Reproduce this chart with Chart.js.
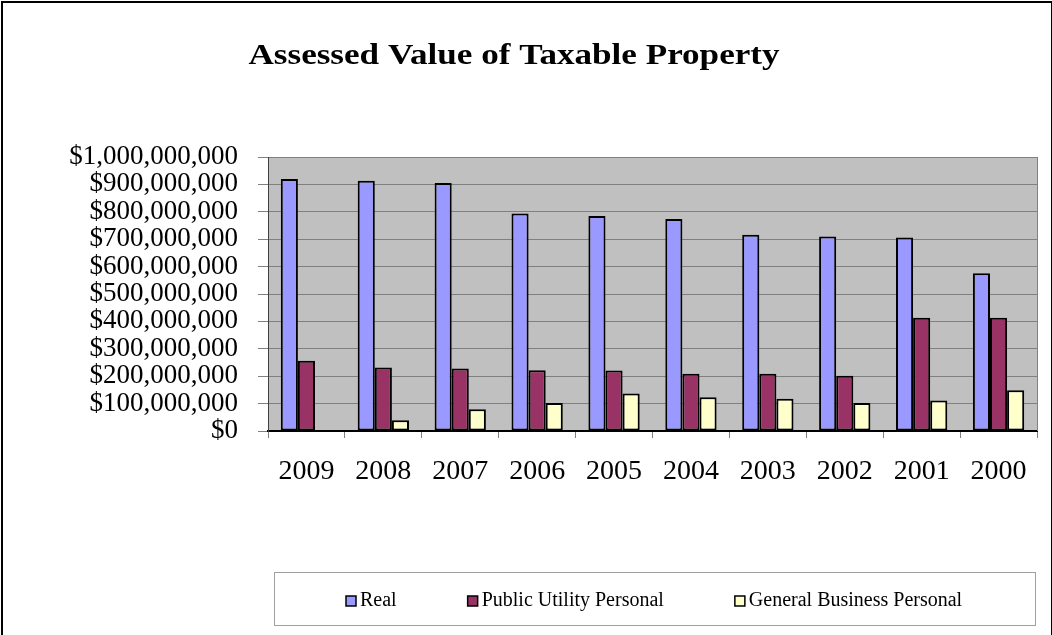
<!DOCTYPE html>
<html>
<head>
<meta charset="utf-8">
<script src="https://cdn.jsdelivr.net/npm/chart.js@4.4.1/dist/chart.umd.min.js"></script>
<style>
  html, body { margin: 0; padding: 0; background: #fff; }
  #wrap { position: relative; width: 1052px; height: 635px; }
  #frame { position: absolute; left: 1px; top: 1px; width: 1048px; height: 640px;
           border: 2px solid #000; pointer-events: none; }
</style>
</head>
<body>
<div id="wrap">
  <canvas id="chartAssessed" width="1052" height="635"></canvas>
  <div id="frame"></div>
</div>
<script>
// chart data
const years = ["2009", "2008", "2007", "2006", "2005", "2004", "2003", "2002", "2001", "2000"];
const realValues = [920000000, 913000000, 905000000, 794000000, 785000000, 774000000, 716000000, 710000000, 706000000, 576000000];
const publicUtilityValues = [256000000, 232000000, 228000000, 222000000, 221000000, 209000000, 209000000, 202000000, 413000000, 413000000];
const generalBusinessValues = [2000000, 39000000, 79000000, 102000000, 137000000, 123000000, 118000000, 102000000, 111000000, 149000000];
const seriesNames = ["Real", "Public Utility Personal", "General Business Personal"];
const seriesColors = ["#9999FF", "#993366", "#FFFFCC"];
const chartTitle = "Assessed Value of Taxable Property";

const SERIF = '"Times New Roman", "Liberation Serif", serif';

// background of plot area + title + legend box
const decorPlugin = {
  id: 'decor',
  beforeDraw(chart) {
    const ctx = chart.ctx;
    const a = chart.chartArea;
    ctx.save();
    ctx.fillStyle = '#C0C0C0';
    ctx.fillRect(a.left, a.top, a.right - a.left, a.bottom - a.top);
    ctx.restore();
  },
  afterDraw(chart) {
    const ctx = chart.ctx;
    const a = chart.chartArea;
    ctx.save();
    // right border of the plot
    ctx.strokeStyle = '#808080';
    ctx.lineWidth = 1;
    ctx.beginPath();
    ctx.moveTo(a.right + 0.5, a.top);
    ctx.lineTo(a.right + 0.5, a.bottom);
    ctx.stroke();

    // title (the original is a bit wider than the font)
    ctx.save();
    ctx.fillStyle = '#000';
    ctx.font = 'bold 30px ' + SERIF;
    ctx.textAlign = 'center';
    ctx.textBaseline = 'middle';
    ctx.translate(514, 56);
    ctx.scale(1.17, 1);
    ctx.fillText(chartTitle, 0, 0);
    ctx.restore();

    // legend box
    ctx.strokeStyle = '#A0A0A0';
    ctx.lineWidth = 1;
    ctx.strokeRect(274.5, 572.5, 761, 53);
    ctx.font = '20px ' + SERIF;
    ctx.textAlign = 'left';
    ctx.textBaseline = 'middle';
    let x = 346;
    chart.data.datasets.forEach(ds => {
      ctx.fillStyle = ds.backgroundColor;
      ctx.fillRect(x, 596, 10, 10);
      ctx.strokeStyle = '#000';
      ctx.lineWidth = 1.5;
      ctx.strokeRect(x, 596, 10, 10);
      ctx.fillStyle = '#000';
      ctx.fillText(ds.label, x + 14, 601);
      x += 14 + ctx.measureText(ds.label).width + 71;
    });
    ctx.restore();
  }
};

const datasets = [realValues, publicUtilityValues, generalBusinessValues].map((vals, i) => ({
  label: seriesNames[i],
  data: vals,
  backgroundColor: seriesColors[i],
  borderColor: '#000',
  borderWidth: 2,
  borderSkipped: false,
  barPercentage: 1.0,
  categoryPercentage: 0.667
}));

const ctxAssessed = document.getElementById('chartAssessed').getContext('2d');
new Chart(ctxAssessed, {
  type: 'bar',
  data: { labels: years, datasets: datasets },
  plugins: [decorPlugin],
  options: {
    responsive: false,
    animation: false,
    layout: { padding: { left: 0, right: 15, top: 157, bottom: 144 } },
    plugins: {
      legend: { display: false },
      title: { display: false },
      tooltip: { enabled: false }
    },
    scales: {
      x: {
        afterFit(scale) { scale.height = 60; },
        grid: { offset: true, drawOnChartArea: false, drawTicks: true, tickLength: 7, color: '#808080' },
        border: { color: '#000', width: 2 },
        ticks: { color: '#000', font: { family: SERIF, size: 28 }, padding: 17, maxRotation: 0 }
      },
      y: {
        min: 0,
        max: 1000000000,
        afterFit(scale) { scale.width = 268; },
        grid: { color: '#808080', lineWidth: 1, tickLength: 10 },
        border: { color: '#404040', width: 1 },
        ticks: {
          stepSize: 100000000,
          autoSkip: false,
          padding: 20,
          color: '#000',
          font: { family: SERIF, size: 27 },
          callback: v => '$' + Number(v).toLocaleString('en-US')
        }
      }
    }
  }
});
</script>
</body>
</html>
